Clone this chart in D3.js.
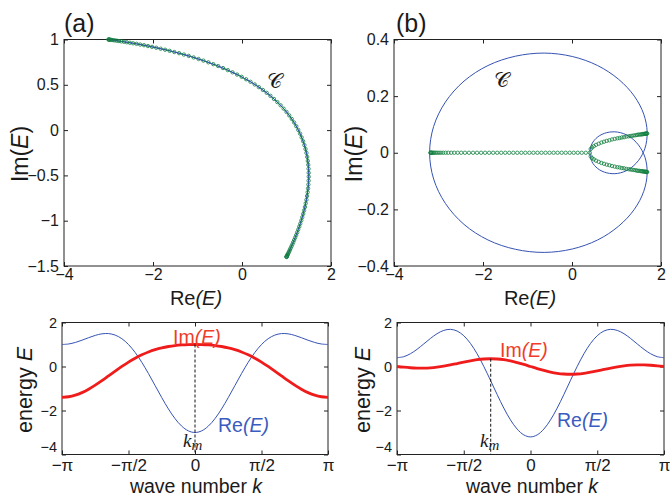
<!DOCTYPE html>
<html>
<head>
<meta charset="utf-8">
<script src="https://cdnjs.cloudflare.com/ajax/libs/d3/7.8.5/d3.min.js"></script>
<style>
  body { margin: 0; background: #fff; }
  svg text { font-family: "Liberation Sans", Arial, sans-serif; fill: #1a1a1a; }
</style>
</head>
<body>
<svg id="fig" width="670" height="497"></svg>
<script>
// wave number k, in units of pi (lower panels)
const kPi = [-1, -0.95, -0.9, -0.85, -0.8, -0.75, -0.7, -0.65, -0.6, -0.55, -0.5, -0.45, -0.4, -0.35, -0.3, -0.25, -0.2, -0.15, -0.1, -0.05,
  0, 0.05, 0.1, 0.15, 0.2, 0.25, 0.3, 0.35, 0.4, 0.45, 0.5, 0.55, 0.6, 0.65, 0.7, 0.75, 0.8, 0.85, 0.9, 0.95, 1];

// panel (a) band: Re(E), Im(E) against k
const reA = [1.000, 1.024, 1.093, 1.194, 1.309, 1.414, 1.485, 1.496, 1.427, 1.264, 1.000, 0.638, 0.191, -0.320, -0.867, -1.414, -1.927, -2.370, -2.711, -2.926,
  -3.000, -2.926, -2.711, -2.370, -1.927, -1.414, -0.867, -0.320, 0.191, 0.638, 1.000, 1.264, 1.427, 1.496, 1.485, 1.414, 1.309, 1.194, 1.093, 1.024, 1.000];
const imA = [-1.400, -1.375, -1.303, -1.187, -1.033, -0.849, -0.644, -0.427, -0.209, 0.002, 0.200, 0.378, 0.533, 0.662, 0.767, 0.849, 0.909, 0.952, 0.979, 0.995,
  1.000, 0.995, 0.979, 0.952, 0.909, 0.849, 0.767, 0.662, 0.533, 0.378, 0.200, 0.002, -0.209, -0.427, -0.644, -0.849, -1.033, -1.187, -1.303, -1.375, -1.400];

// panel (b) band
const reB = [0.400, 0.446, 0.579, 0.781, 1.024, 1.273, 1.491, 1.640, 1.689, 1.613, 1.400, 1.050, 0.576, 0.006, -0.625, -1.273, -1.889, -2.427, -2.845, -3.109,
  -3.200, -3.109, -2.845, -2.427, -1.889, -1.273, -0.625, 0.006, 0.576, 1.050, 1.400, 1.613, 1.689, 1.640, 1.491, 1.273, 1.024, 0.781, 0.579, 0.446, 0.400];
const imB = [0, -0.031, -0.056, -0.071, -0.073, -0.059, -0.028, 0.016, 0.073, 0.136, 0.200, 0.259, 0.308, 0.340, 0.352, 0.341, 0.308, 0.253, 0.179, 0.093,
  0, -0.093, -0.179, -0.253, -0.308, -0.341, -0.352, -0.340, -0.308, -0.259, -0.200, -0.136, -0.073, -0.016, 0.028, 0.059, 0.073, 0.071, 0.056, 0.031, 0];

// k_m marks (units of pi) and the Im(E) value there
const kmA = 0, kmImA = 1.0;
const kmB = -0.298, kmImB = 0.352;

// open-boundary eigenvalues, panel (a)
const obcReA = [-3.000, -2.997, -2.988, -2.973, -2.953, -2.926, -2.894, -2.857, -2.813, -2.765, -2.711, -2.652, -2.589, -2.520, -2.447, -2.370, -2.288,
  -2.203, -2.114, -2.022, -1.927, -1.829, -1.728, -1.626, -1.521, -1.414, -1.306, -1.197, -1.087, -0.977, -0.867, -0.756, -0.646, -0.536, -0.428,
  -0.320, -0.214, -0.110, -0.007, 0.093, 0.191, 0.286, 0.379, 0.469, 0.555, 0.638, 0.718, 0.794, 0.867, 0.935, 1.000, 1.061, 1.118, 1.171, 1.219,
  1.264, 1.305, 1.341, 1.374, 1.402, 1.427, 1.448, 1.465, 1.479, 1.489, 1.496, 1.499, 1.500, 1.497, 1.492, 1.485, 1.475, 1.462, 1.448, 1.432,
  1.414, 1.395, 1.375, 1.354, 1.332, 1.309, 1.286, 1.263, 1.240, 1.217, 1.194, 1.172, 1.151, 1.131, 1.111, 1.093, 1.076, 1.061, 1.047, 1.035,
  1.024, 1.016, 1.009, 1.004, 1.001, 1.000];
const obcImA = [1.000, 1.000, 0.999, 0.998, 0.997, 0.995, 0.993, 0.990, 0.987, 0.983, 0.979, 0.975, 0.970, 0.964, 0.958, 0.952, 0.944, 0.937, 0.928,
  0.919, 0.909, 0.898, 0.887, 0.875, 0.862, 0.849, 0.834, 0.819, 0.802, 0.785, 0.767, 0.748, 0.728, 0.707, 0.685, 0.662, 0.638, 0.613, 0.588,
  0.561, 0.533, 0.504, 0.474, 0.443, 0.411, 0.378, 0.344, 0.309, 0.274, 0.237, 0.200, 0.162, 0.123, 0.084, 0.043, 0.002, -0.039, -0.081, -0.123,
  -0.166, -0.209, -0.252, -0.296, -0.340, -0.383, -0.427, -0.471, -0.514, -0.558, -0.601, -0.644, -0.686, -0.727, -0.769, -0.809, -0.849, -0.887,
  -0.925, -0.962, -0.998, -1.033, -1.066, -1.098, -1.129, -1.159, -1.187, -1.213, -1.238, -1.262, -1.283, -1.303, -1.321, -1.338, -1.352, -1.365,
  -1.375, -1.384, -1.391, -1.396, -1.399, -1.400];

// open-boundary eigenvalues, panel (b): real segment, then the two branches (Im = +/- branchImB)
const lineReB = [-3.180, -3.176, -3.168, -3.156, -3.140, -3.120, -3.095, -3.065, -3.030, -2.990, -2.945, -2.895, -2.840, -2.780, -2.715, -2.645,
  -2.570, -2.490, -2.405, -2.315, -2.224, -2.134, -2.043, -1.953, -1.862, -1.772, -1.681, -1.591, -1.500, -1.410, -1.319, -1.229, -1.138, -1.048,
  -0.957, -0.867, -0.776, -0.686, -0.595, -0.505, -0.414, -0.324, -0.233, -0.143, -0.052, 0.038, 0.129, 0.219, 0.310, 0.400];
const branchReB = [0.42, 0.45, 0.49, 0.54, 0.60, 0.66, 0.72, 0.78, 0.84, 0.90, 0.96, 1.02, 1.07, 1.12, 1.17, 1.22, 1.27, 1.31, 1.35, 1.39, 1.43,
  1.46, 1.49, 1.52, 1.55, 1.57, 1.59, 1.61, 1.63, 1.645, 1.66, 1.67, 1.68, 1.69];
const branchImB = [0.013, 0.019, 0.023, 0.028, 0.032, 0.036, 0.039, 0.042, 0.044, 0.047, 0.049, 0.051, 0.052, 0.054, 0.055, 0.057, 0.058, 0.059,
  0.060, 0.061, 0.062, 0.063, 0.064, 0.064, 0.065, 0.065, 0.066, 0.066, 0.067, 0.067, 0.067, 0.068, 0.068, 0.068];

// ticks
const ticksRe = [-4, -2, 0, 2];
const ticksImA = [-1.5, -1, -0.5, 0, 0.5, 1];
const ticksImB = [-0.4, -0.2, 0, 0.2, 0.4];
const ticksK = [-1, -0.5, 0, 0.5, 1];
const tickLabelsK = ["\u2212\u03c0", "\u2212\u03c0/2", "0", "\u03c0/2", "\u03c0"];
const ticksE = [-4, -2, 0, 2];

const BLUE = "#3553b3", RED = "#f01c1c", GREEN = "#138040";
const svg = d3.select("#fig");
const minus = v => String(v).replace("-", "\u2212");

function frame(x, y, xt, yt, xfmt, yfmt, fsx, fsy, padx) {
  const g = svg.append("g");
  const [x0, x1] = x.range(), [y1, y0] = y.range();
  const bottom = g.append("g").attr("transform", `translate(0,${y1})`)
    .call(d3.axisBottom(x).tickValues(xt).tickSize(-4).tickPadding(padx).tickFormat(xfmt));
  const top = g.append("g").attr("transform", `translate(0,${y0})`)
    .call(d3.axisTop(x).tickValues(xt).tickSize(-4).tickFormat(""));
  const left = g.append("g").attr("transform", `translate(${x0},0)`)
    .call(d3.axisLeft(y).tickValues(yt).tickSize(-4).tickPadding(5).tickFormat(yfmt));
  const right = g.append("g").attr("transform", `translate(${x1},0)`)
    .call(d3.axisRight(y).tickValues(yt).tickSize(-4).tickFormat(""));
  [bottom, top, left, right].forEach(a => {
    a.select(".domain").remove();
    a.attr("font-family", null);
    a.selectAll("line").attr("stroke", "#222");
  });
  bottom.attr("font-size", fsx);
  left.attr("font-size", fsy);
  g.append("rect").attr("x", x0).attr("y", y0).attr("width", x1 - x0).attr("height", y1 - y0)
    .attr("fill", "none").attr("stroke", "#222").attr("stroke-width", 1);
  return { g, left, bottom };
}

function label(txt, x, y, opts = {}) {
  const t = svg.append("text").attr("x", x).attr("y", y)
    .attr("font-size", opts.size || 20).attr("text-anchor", opts.anchor || "middle");
  if (opts.rotate) t.attr("transform", `rotate(-90,${x},${y})`);
  if (opts.color) t.style("fill", opts.color);
  txt.forEach(([s, it]) => t.append("tspan").text(s).attr("font-style", it ? "italic" : null));
  return t;
}

// ---------- top panels ----------
function topPanel(x0, x1, yDom, yTicks, re, im, circles) {
  const x = d3.scaleLinear().domain([-4, 2]).range([x0, x1]);
  const y = d3.scaleLinear().domain(yDom).range([266, 39.5]);
  frame(x, y, ticksRe, yTicks, minus, minus, 16, 16, 3);
  const pbc = d3.line().x(i => x(re[i])).y(i => y(im[i])).curve(d3.curveCatmullRom.alpha(0.5));
  svg.append("path").attr("d", pbc(d3.range(re.length))).attr("fill", "none")
    .attr("stroke", BLUE).attr("stroke-width", 1);
  svg.append("g").selectAll("circle").data(circles).join("circle")
    .attr("cx", d => x(d[0])).attr("cy", d => y(d[1])).attr("r", 1.7)
    .attr("fill", "none").attr("stroke", GREEN).attr("stroke-width", 0.8);
  return { x, y };
}

topPanel(64, 331, [-1.5, 1], ticksImA, reA, imA, obcReA.map((v, i) => [v, obcImA[i]]));
const circlesB = lineReB.map(v => [v, 0])
  .concat(branchReB.map((v, i) => [v, branchImB[i]]))
  .concat(branchReB.map((v, i) => [v, -branchImB[i]]));
topPanel(394, 661, [-0.4, 0.4], ticksImB, reB, imB, circlesB);

// ---------- bottom panels ----------
function bottomPanel(x0, x1, re, im, km, kmIm) {
  const x = d3.scaleLinear().domain([-1, 1]).range([x0, x1]);
  const y = d3.scaleLinear().domain([-4, 2]).range([454.5, 322.5]);
  const f = frame(x, y, ticksK, ticksE, (d, i) => tickLabelsK[i], minus, 17, 14.5, 4);
  // the lowest energy label sits just above the k labels, as in the figure
  f.left.selectAll(".tick text").filter(d => d === -4).attr("dy", "-0.18em");
  const line = arr => d3.line().x((d, i) => x(kPi[i])).y(d => y(d)).curve(d3.curveCatmullRom)(arr);
  svg.append("path").attr("d", line(re)).attr("fill", "none").attr("stroke", BLUE).attr("stroke-width", 1);
  svg.append("path").attr("d", line(im)).attr("fill", "none").attr("stroke", RED).attr("stroke-width", 2.8);
  svg.append("line").attr("x1", x(km)).attr("x2", x(km)).attr("y1", y(kmIm)).attr("y2", y(-4))
    .attr("stroke", "#111").attr("stroke-width", 1).attr("stroke-dasharray", "3,2");
  return { x, y };
}

bottomPanel(62, 328, reA, imA, kmA, kmImA);
bottomPanel(397, 664, reB, imB, kmB, kmImB);

// ---------- text ----------
label([["(a)", false]], 64, 32, { size: 25, anchor: "start" });
label([["(b)", false]], 396, 32, { size: 25, anchor: "start" });

label([["Re", false], ["(E)", true]], 196, 305);
label([["Re", false], ["(E)", true]], 530, 305);
label([["Im(", false], ["E", true], [")", false]], 28, 154, { rotate: true, size: 23 });
label([["Im(", false], ["E", true], [")", false]], 362, 154, { rotate: true, size: 23 });

label([["energy ", false], ["E", true]], 32, 390, { rotate: true, size: 21.5 });
label([["energy ", false], ["E", true]], 370, 390, { rotate: true, size: 21.5 });
label([["wave number ", false], ["k", true]], 196, 492.5, { size: 19.5 });
label([["wave number ", false], ["k", true]], 532, 492.5, { size: 19.5 });

label([["Im", false], ["(E)", true]], 173, 344, { anchor: "start", color: "#f03c28", size: 19.5 });
label([["Im", false], ["(E)", true]], 500, 357, { anchor: "start", color: "#f03c28", size: 19.5 });
label([["Re", false], ["(E)", true]], 218, 432, { anchor: "start", color: "#3a5bc0", size: 19.5 });
label([["Re", false], ["(E)", true]], 557, 427, { anchor: "start", color: "#3a5bc0", size: 19.5 });

// k_m marks
[[183, 447], [480, 447]].forEach(([kx, ky]) => {
  const t = svg.append("text").attr("x", kx).attr("y", ky).attr("font-size", 19)
    .style("font-family", "'Liberation Serif', 'DejaVu Serif', serif").style("font-style", "italic");
  t.append("tspan").text("k");
  t.append("tspan").text("m").attr("dy", 3).attr("font-size", 15);
});

// contour label
[[267, 88], [494, 87]].forEach(([cx, cy]) => {
  svg.append("text").attr("x", cx).attr("y", cy).attr("font-size", 21)
    .style("font-family", "'DejaVu Serif', 'DejaVu Sans', serif").text("\u{1D49E}");
});
</script>
</body>
</html>
